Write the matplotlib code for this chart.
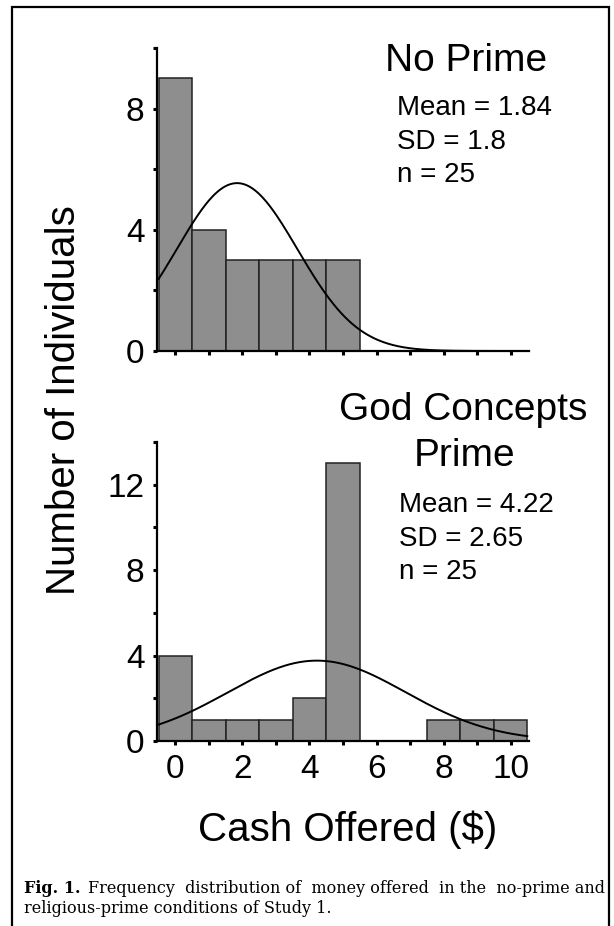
import numpy as np
import matplotlib
matplotlib.use("Agg")
import matplotlib.pyplot as plt
from matplotlib.patches import Rectangle

# data
cash = np.arange(0, 11)
no_prime_counts = [9, 4, 3, 3, 3, 3, 0, 0, 0, 0, 0]
god_prime_counts = [4, 1, 1, 1, 2, 13, 0, 0, 1, 1, 1]
no_prime_stats = (1.84, 1.8, 25)   # mean, sd, n
god_prime_stats = (4.22, 2.65, 25)

plt.rcParams['font.family'] = ['Liberation Sans', 'DejaVu Sans']

W, H = 614, 926
fig = plt.figure(figsize=(W / 100, H / 100), dpi=100)


def px(x, y):
    # pixel coords (from top-left) -> figure fraction
    return x / W, 1 - y / H


def normal_curve(mean, sd, n):
    x = np.linspace(-0.5, 10.5, 300)
    y = n / (sd * np.sqrt(2 * np.pi)) * np.exp(-0.5 * ((x - mean) / sd) ** 2)
    return x, y


def style_axes(ax, ymax, labels, xlabels):
    ax.set_xlim(-0.55, 10.55)
    ax.set_ylim(0, ymax)
    for s in ['top', 'right']:
        ax.spines[s].set_visible(False)
    for s in ['left', 'bottom']:
        ax.spines[s].set_linewidth(1.6)
    ax.set_yticks(labels)
    ax.set_yticks(np.arange(2, ymax + 1, 4), minor=True)
    ax.set_xticks(np.arange(0, 11, 2))
    ax.set_xticks(np.arange(1, 11, 2), minor=True)
    ax.tick_params(which='both', direction='out', length=3, width=2.2, color='black')
    ax.tick_params(axis='y', labelsize=24, pad=6)
    ax.tick_params(axis='x', labelsize=24, pad=6, labelbottom=xlabels)


def draw_panel(ax, counts, stats):
    ax.bar(cash, counts, width=1.0, color='#8e8e8e', edgecolor='#222222', linewidth=1.1, zorder=2)
    cx, cy = normal_curve(*stats)
    ax.plot(cx, cy, color='black', linewidth=1.4, zorder=3)


# top panel: no prime
ax1 = fig.add_axes([157 / W, 1 - 351 / H, 372 / W, 303 / H])
draw_panel(ax1, no_prime_counts, no_prime_stats)
style_axes(ax1, 10, [0, 4, 8], False)

# bottom panel: god concepts prime
ax2 = fig.add_axes([157 / W, 1 - 741 / H, 372 / W, 299 / H])
draw_panel(ax2, god_prime_counts, god_prime_stats)
style_axes(ax2, 14, [0, 4, 8, 12], True)

# panel titles and stats
fig.text(*px(466, 61), 'No Prime', fontsize=28, ha='center', va='center')
mean, sd, n = no_prime_stats
fig.text(*px(397, 108), f'Mean = {mean:.2f}', fontsize=20, ha='left', va='center')
fig.text(*px(397, 142), f'SD = {sd}', fontsize=20, ha='left', va='center')
fig.text(*px(397, 175), f'n = {n}', fontsize=20, ha='left', va='center')

fig.text(*px(463, 410), 'God Concepts', fontsize=28, ha='center', va='center')
fig.text(*px(465, 456), 'Prime', fontsize=28, ha='center', va='center')
mean, sd, n = god_prime_stats
fig.text(*px(399, 505), f'Mean = {mean:.2f}', fontsize=20, ha='left', va='center')
fig.text(*px(399, 539), f'SD = {sd:.2f}', fontsize=20, ha='left', va='center')
fig.text(*px(399, 572), f'n = {n}', fontsize=20, ha='left', va='center')

# shared axis labels
fig.text(*px(64, 400), 'Number of Individuals', fontsize=29, rotation=90, ha='center', va='center')
fig.text(*px(348, 830), 'Cash Offered ($)', fontsize=29, ha='center', va='center')

# caption
fig.text(*px(24, 893), 'Fig. 1.', fontsize=11.5, family='DejaVu Serif', weight='bold', ha='left', va='baseline')
fig.text(*px(88, 893), 'Frequency  distribution of  money offered  in the  no-prime and',
         fontsize=11.5, family='DejaVu Serif', ha='left', va='baseline')
fig.text(*px(24, 913), 'religious-prime conditions of Study 1.',
         fontsize=11.5, family='DejaVu Serif', ha='left', va='baseline')

# frame around the figure
fig.patches.append(Rectangle(px(12, 940), (609 - 12) / W, (940 - 7) / H, transform=fig.transFigure,
                             fill=False, edgecolor='black', linewidth=1.6))

fig.savefig('out.png', dpi=100)
